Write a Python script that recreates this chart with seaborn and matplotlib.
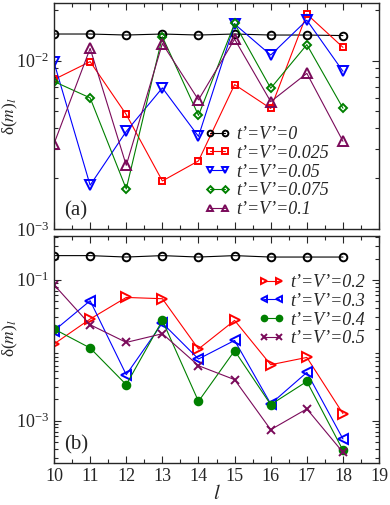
import numpy as np
import pandas as pd
import matplotlib
matplotlib.use("Agg")
import matplotlib.pyplot as plt
import seaborn as sns
from matplotlib.ticker import LogLocator, FixedLocator, MultipleLocator, NullFormatter

sns.set_style("ticks")
plt.rcParams['font.family'] = ['Liberation Serif', 'DejaVu Serif']
plt.rcParams['mathtext.fontset'] = 'stix'

l_vals = [10, 11, 12, 13, 14, 15, 16, 17, 18]

# panel (a)
labels_a = ["t’=V’=0", "t’=V’=0.025", "t’=V’=0.05", "t’=V’=0.075", "t’=V’=0.1"]
d_0 = [0.0144, 0.0144, 0.0142, 0.0144, 0.0142, 0.0144, 0.0142, 0.0142, 0.0141]
d_0025 = [0.00773, 0.00987, 0.00479, 0.00193, 0.00254, 0.00721, 0.0052, 0.0189, 0.0120]
d_005 = [0.00977, 0.00182, 0.0038, 0.00689, 0.00355, 0.0165, 0.0108, 0.0174, 0.00865]
d_0075 = [0.00752, 0.00601, 0.00173, 0.01387, 0.00473, 0.01663, 0.00686, 0.01245, 0.00522]
d_01 = [0.00321, 0.01183, 0.00239, 0.01264, 0.00585, 0.01343, 0.00571, 0.00841, 0.00332]

# panel (b)
labels_b = ["t’=V’=0.2", "t’=V’=0.3", "t’=V’=0.4", "t’=V’=0.5"]
d_b0 = [0.22, 0.22, 0.21, 0.22, 0.21, 0.22, 0.21, 0.21, 0.21]
d_02 = [0.01225, 0.0277, 0.0561, 0.0538, 0.0104, 0.0265, 0.00622, 0.0079, 0.00126]
d_03 = [0.0189, 0.0504, 0.00449, 0.0243, 0.0075, 0.01377, 0.00173, 0.00484, 0.00055]
d_04 = [0.020, 0.01075, 0.00324, 0.0265, 0.00188, 0.00984, 0.00169, 0.0036, 0.00038]
d_05 = [0.0849, 0.023, 0.0129, 0.01714, 0.00603, 0.00382, 0.000745, 0.00147, 0.000355]

purple = "#7a0a5a"
fig = plt.figure(figsize=(3.9, 5.05), dpi=100)
ax1 = fig.add_axes([0.1385, 0.5465, 0.8335, 0.4475])
ax2 = fig.add_axes([0.1385, 0.083, 0.8335, 0.450])


def draw(ax, y, label, color, marker, ms=6, filled=False, legend=True):
    kw = dict(color=color, marker=marker, markersize=ms, linewidth=0.8,
              markeredgecolor=color, markeredgewidth=1.4)
    kw['markerfacecolor'] = color if filled else 'none'
    sns.lineplot(x=l_vals, y=y, ax=ax, label=label if legend else None, **kw)


draw(ax1, d_0, labels_a[0], "black", "o", ms=5.5)
draw(ax1, d_0025, labels_a[1], "red", "s", ms=5)
draw(ax1, d_005, labels_a[2], "blue", "v", ms=6.5)
draw(ax1, d_0075, labels_a[3], "green", "D", ms=4.5)
draw(ax1, d_01, labels_a[4], purple, "^", ms=6.5)

draw(ax2, d_b0, None, "black", "o", ms=5.5, legend=False)
draw(ax2, d_02, labels_b[0], "red", ">", ms=6.5)
draw(ax2, d_03, labels_b[1], "blue", "<", ms=6.5)
draw(ax2, d_04, labels_b[2], "green", "o", ms=5.5, filled=True)
draw(ax2, d_05, labels_b[3], purple, "x", ms=5.5)

for ax in (ax1, ax2):
    ax.set_yscale("log")
    ax.set_xlim(10, 19)
    ax.xaxis.set_major_locator(MultipleLocator(1))
    ax.xaxis.set_minor_locator(MultipleLocator(0.5))
    ax.tick_params(which='both', direction='in', top=True, right=True)
    ax.tick_params(which='major', length=5, width=0.8, labelsize=13)
    ax.tick_params(which='minor', length=3, width=0.8)
    for s in ax.spines.values():
        s.set_linewidth(1.0)
    ax.set_ylabel(r"δ($m$)$_l$", fontsize=12.5)

ax1.yaxis.set_label_coords(-0.105, 0.5)
ax2.yaxis.set_label_coords(-0.105, 0.55)

ax1.set_ylim(1e-3, 0.022)
ax1.yaxis.set_major_locator(FixedLocator([1e-3, 1e-2]))
ax1.yaxis.set_minor_locator(LogLocator(base=10, subs=np.arange(2, 10), numticks=20))
ax1.yaxis.set_minor_formatter(NullFormatter())
ax1.tick_params(axis='x', labelbottom=False)
ax1.set_xlabel("")

ax2.set_ylim(2.5e-4, 0.42)
ax2.yaxis.set_major_locator(FixedLocator([1e-3, 1e-1]))
ax2.yaxis.set_minor_locator(LogLocator(base=10, subs=np.arange(2, 10), numticks=20))
ax2.yaxis.set_minor_formatter(NullFormatter())
ax2.set_xlabel("$l$", fontsize=15, labelpad=0)

ax1.text(0.03, 0.06, "(a)", transform=ax1.transAxes, fontsize=15)
ax2.text(0.03, 0.06, "(b)", transform=ax2.transAxes, fontsize=15)

leg_kw = dict(frameon=False, numpoints=2, handlelength=1.4, handletextpad=0.35,
              labelspacing=0.1, borderaxespad=0.2, markerscale=0.75,
              prop={'family': 'Liberation Serif', 'style': 'italic', 'size': 13})
ax1.legend(loc='lower right', bbox_to_anchor=(0.88, 0.0), **leg_kw)
ax2.legend(loc='upper right', bbox_to_anchor=(0.99, 0.88), **leg_kw)

fig.savefig("out.png", dpi=100)
